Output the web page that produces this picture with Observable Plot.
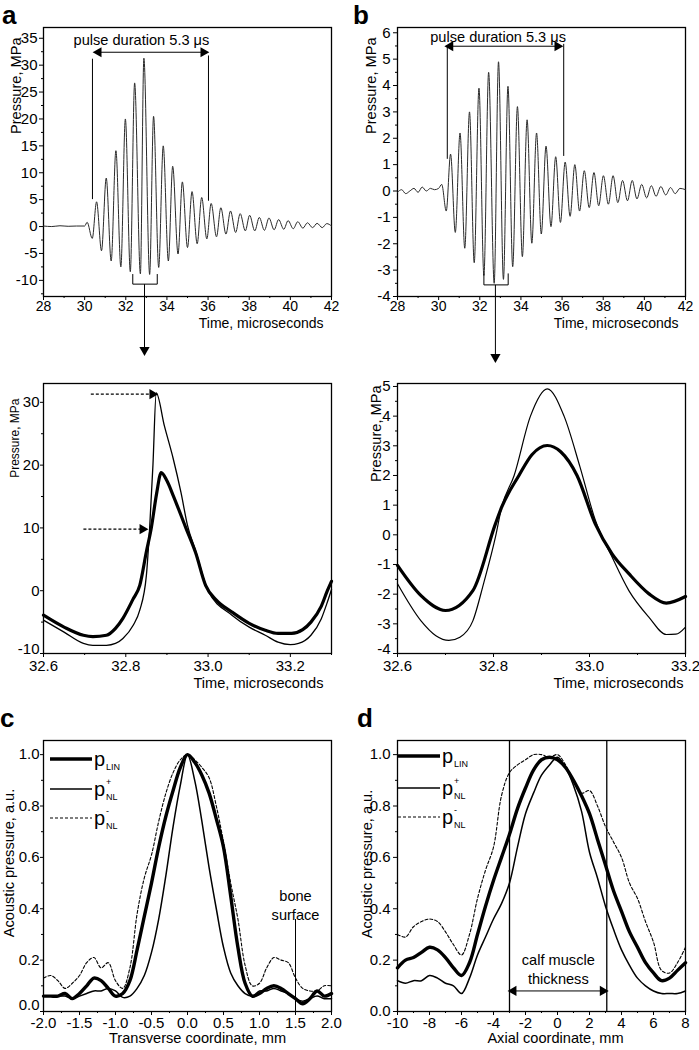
<!DOCTYPE html>
<html><head><meta charset="utf-8">
<script src="https://cdn.jsdelivr.net/npm/d3@7"></script>
<script src="https://cdn.jsdelivr.net/npm/@observablehq/plot@0.6"></script>
<style>
body{margin:0;background:#fff;}
#page{position:relative;width:699px;height:1050px;overflow:hidden;font-family:"Liberation Sans",Arial,sans-serif;background:#fff;}
.panel{position:absolute;}
#overlay{position:absolute;left:0;top:0;pointer-events:none;}
</style></head><body><div id="page"></div>
<script>
const FONT = '"Liberation Sans", Arial, sans-serif';

// ---------- Panel a (full pulse, nonlinear) ----------
const aLeadTime = [28.0, 28.4, 28.8, 29.2, 29.6, 30.0, 30.12];
const aLeadP = [0.1, 0.0, 0.15, 0.05, 0.1, 0.1, 0.8];
const aPeakTime = [30.58, 31.05, 31.52, 31.98, 32.43, 32.88, 33.35, 33.82, 34.28, 34.75, 35.22, 35.69, 36.15, 36.62, 37.09, 37.56, 38.02, 38.49, 38.96, 39.43, 39.89, 40.36, 40.83, 41.30, 41.77];
const aPeakP = [4.6, 9.0, 14.1, 20.0, 26.7, 31.3, 20.5, 15.0, 11.2, 8.3, 6.5, 5.4, 4.3, 3.5, 2.9, 2.4, 2.1, 1.7, 1.6, 1.3, 1.1, 0.9, 0.7, 0.6, 0.55];
const aTroughTime = [30.37, 30.82, 31.29, 31.76, 32.22, 32.71, 33.16, 33.6, 34.07, 34.54, 35.0, 35.47, 35.94, 36.41, 36.87, 37.34, 37.81, 38.27, 38.74, 39.21, 39.68, 40.14, 40.61, 41.08, 41.55, 42.0];
const aTroughP = [-2.2, -4.5, -6.4, -7.5, -8.4, -8.8, -8.9, -7.6, -6.4, -5.1, -3.9, -3.2, -2.3, -1.9, -1.4, -1.1, -0.8, -0.8, -0.7, -0.6, -0.5, -0.4, -0.3, -0.2, -0.2, 0.1];
const aXTicks = [28, 30, 32, 34, 36, 38, 40, 42];
const aXMinor = [29, 31, 33, 35, 37, 39, 41];
const aYTicks = [-10, -5, 0, 5, 10, 15, 20, 25, 30, 35];
const aYMinor = [-12.5, -7.5, -2.5, 2.5, 7.5, 12.5, 17.5, 22.5, 27.5, 32.5];

// ---------- Panel b (full pulse, linear) ----------
const bLeadTime = [28.0, 28.2, 28.4, 28.6, 28.8, 29.0, 29.2, 29.4, 29.6, 29.8, 30.0, 30.15];
const bLeadP = [-0.05, 0.05, -0.1, 0.0, 0.1, -0.05, 0.15, 0.0, 0.1, 0.05, 0.1, 0.25];
const bPeakTime = [30.58, 31.04, 31.5, 31.96, 32.43, 32.91, 33.37, 33.83, 34.3, 34.76, 35.22, 35.69, 36.15, 36.62, 37.08, 37.55, 38.01, 38.48, 38.94, 39.41, 39.87, 40.34, 40.8, 41.27, 41.73];
const bPeakP = [1.4, 2.2, 3.0, 3.9, 4.5, 4.9, 3.97, 3.2, 2.7, 2.2, 1.7, 1.3, 1.1, 1.0, 0.77, 0.7, 0.58, 0.58, 0.4, 0.4, 0.25, 0.2, 0.17, 0.13, 0.1];
const bTroughTime = [30.37, 30.81, 31.27, 31.73, 32.2, 32.7, 33.15, 33.6, 34.07, 34.53, 34.99, 35.46, 35.92, 36.39, 36.85, 37.32, 37.78, 38.25, 38.71, 39.18, 39.64, 40.11, 40.57, 41.04, 41.5, 42.0];
const bTroughP = [-0.76, -1.57, -2.17, -2.72, -3.2, -3.5, -3.35, -2.87, -2.49, -1.98, -1.63, -1.35, -1.19, -0.96, -0.76, -0.63, -0.56, -0.5, -0.44, -0.37, -0.3, -0.26, -0.2, -0.15, -0.1, 0.05];
const bYTicks = [-4, -3, -2, -1, 0, 1, 2, 3, 4, 5, 6];
const bYMinor = [-3.5, -2.5, -1.5, -0.5, 0.5, 1.5, 2.5, 3.5, 4.5, 5.5];

// ---------- Zoomed single period, nonlinear ----------
const a2ThinTime = [32.6, 32.65, 32.697, 32.72, 32.753, 32.775, 32.793, 32.818, 32.834, 32.85, 32.858, 32.866, 32.874, 32.894, 32.915, 32.934, 32.95, 32.97, 33.0, 33.058, 33.1, 33.139, 33.17, 33.2, 33.22, 33.25, 33.275, 33.29, 33.3];
const a2ThinP = [-4.7, -6.6, -8.4, -8.7, -8.7, -8.4, -7.6, -5.5, -3.1, 2.4, 10.0, 20.0, 31.5, 26.2, 21.1, 15.7, 10.4, 6.3, 0.0, -3.9, -5.8, -7.1, -8.2, -8.6, -8.4, -7.1, -4.5, -1.8, 0.2];
const a2BoldTime = [32.6, 32.65, 32.697, 32.72, 32.753, 32.775, 32.793, 32.818, 32.834, 32.85, 32.862, 32.875, 32.886, 32.9, 32.915, 32.946, 32.97, 32.994, 33.02, 33.058, 33.1, 33.139, 33.17, 33.203, 33.23, 33.25, 33.275, 33.29, 33.3];
const a2BoldP = [-3.9, -5.8, -7.1, -7.3, -7.1, -6.0, -4.4, -1.3, 0.85, 6.2, 10.0, 15.5, 18.8, 17.5, 15.2, 10.0, 6.0, 0.85, -1.5, -3.4, -5.2, -6.3, -6.8, -6.8, -6.2, -5.0, -2.5, 0.0, 1.5];
const a2XTicks = [32.6, 32.8, 33.0, 33.2];
const a2XMinor = [32.7, 32.9, 33.1, 33.3];
const a2YTicks = [-10, 0, 10, 20, 30];
const a2YMinor = [-5, 5, 15, 25];

// ---------- Zoomed single period, linear ----------
const b2ThinTime = [32.6, 32.649, 32.68, 32.707, 32.73, 32.757, 32.78, 32.804, 32.817, 32.843, 32.877, 32.912, 32.947, 32.98, 33.012, 33.047, 33.082, 33.124, 33.16, 33.18, 33.2];
const b2ThinP = [-1.65, -2.9, -3.4, -3.56, -3.45, -2.9, -1.6, -0.08, 0.93, 2.0, 4.0, 4.92, 4.0, 2.3, 0.5, -0.75, -1.88, -2.78, -3.36, -3.35, -3.11];
const b2BoldTime = [32.6, 32.649, 32.7, 32.757, 32.804, 32.817, 32.853, 32.88, 32.912, 32.94, 32.974, 33.012, 33.047, 33.082, 33.124, 33.16, 33.2];
const b2BoldP = [-1.03, -2.05, -2.55, -1.88, 0.37, 0.93, 2.0, 2.7, 3.01, 2.8, 2.0, 0.37, -0.64, -1.31, -1.99, -2.3, -2.08];
const b2XTicks = [32.6, 32.8, 33.0, 33.2];
const b2XMinor = [32.7, 32.9, 33.1];
const b2YTicks = [-4, -3, -2, -1, 0, 1, 2, 3, 4, 5];
const b2YMinor = [-3.5, -2.5, -1.5, -0.5, 0.5, 1.5, 2.5, 3.5, 4.5];

// ---------- Panel c (transverse profiles) ----------
const cX = [-2.0, -1.9, -1.8, -1.7, -1.6, -1.5, -1.4, -1.3, -1.2, -1.1, -1.0, -0.9, -0.8, -0.7, -0.6, -0.5, -0.4, -0.3, -0.2, -0.1, 0, 0.1, 0.2, 0.3, 0.4, 0.5, 0.6, 0.7, 0.8, 0.9, 1.0, 1.1, 1.2, 1.3, 1.4, 1.5, 1.6, 1.7, 1.8, 1.9, 2.0];
const cLin = [0.06, 0.06, 0.06, 0.07, 0.05, 0.07, 0.10, 0.13, 0.12, 0.09, 0.06, 0.07, 0.12, 0.24, 0.37, 0.50, 0.64, 0.76, 0.86, 0.95, 1.0, 0.97, 0.92, 0.85, 0.75, 0.64, 0.45, 0.25, 0.11, 0.06, 0.07, 0.09, 0.10, 0.09, 0.07, 0.05, 0.03, 0.05, 0.08, 0.06, 0.07];
const cPlus = [0.06, 0.06, 0.06, 0.06, 0.05, 0.06, 0.07, 0.08, 0.08, 0.09, 0.08, 0.055, 0.06, 0.09, 0.14, 0.23, 0.36, 0.53, 0.72, 0.88, 1.0, 0.9, 0.74, 0.56, 0.40, 0.25, 0.15, 0.10, 0.07, 0.06, 0.08, 0.08, 0.09, 0.08, 0.07, 0.05, 0.04, 0.05, 0.06, 0.05, 0.05];
const cMinus = [0.13, 0.14, 0.12, 0.09, 0.11, 0.14, 0.19, 0.21, 0.17, 0.19, 0.12, 0.09, 0.17, 0.38, 0.52, 0.61, 0.74, 0.85, 0.93, 0.98, 1.0, 0.98, 0.95, 0.91, 0.80, 0.66, 0.50, 0.36, 0.18, 0.10, 0.11, 0.17, 0.21, 0.20, 0.19, 0.13, 0.09, 0.08, 0.08, 0.10, 0.10];
const cXTicks = [-2, -1.5, -1, -0.5, 0, 0.5, 1, 1.5, 2];
const cXMinor = [-1.75, -1.25, -0.75, -0.25, 0.25, 0.75, 1.25, 1.75];
const pYTicks = [0, 0.2, 0.4, 0.6, 0.8, 1.0];
const pYMinor = [0.1, 0.3, 0.5, 0.7, 0.9];

// ---------- Panel d (axial profiles) ----------
const dX = [-10, -9.5, -9, -8.5, -8, -7.5, -7, -6.5, -6, -5.5, -5, -4.5, -4, -3.5, -3, -2.5, -2, -1.5, -1, -0.5, 0, 0.5, 1, 1.5, 2, 2.5, 3, 3.5, 4, 4.5, 5, 5.5, 6, 6.5, 7, 7.5, 8];
const dLin = [0.17, 0.20, 0.21, 0.23, 0.25, 0.24, 0.21, 0.17, 0.14, 0.19, 0.30, 0.41, 0.51, 0.60, 0.69, 0.79, 0.87, 0.94, 0.98, 0.99, 0.98, 0.95, 0.90, 0.84, 0.77, 0.67, 0.57, 0.47, 0.39, 0.31, 0.25, 0.19, 0.15, 0.12, 0.13, 0.16, 0.19];
const dPlus = [0.12, 0.11, 0.12, 0.12, 0.14, 0.13, 0.11, 0.10, 0.07, 0.13, 0.22, 0.29, 0.36, 0.42, 0.50, 0.64, 0.77, 0.85, 0.92, 0.96, 0.99, 0.95, 0.88, 0.78, 0.62, 0.52, 0.41, 0.32, 0.24, 0.18, 0.13, 0.10, 0.08, 0.07, 0.07, 0.07, 0.08];
const dMinus = [0.30, 0.29, 0.33, 0.35, 0.36, 0.35, 0.31, 0.26, 0.22, 0.30, 0.44, 0.55, 0.64, 0.84, 0.93, 0.96, 0.98, 1.0, 1.0, 0.99, 1.0, 0.96, 0.90, 0.85, 0.86, 0.80, 0.72, 0.66, 0.60, 0.50, 0.44, 0.35, 0.27, 0.16, 0.15, 0.19, 0.25];
const dXTicks = [-10, -8, -6, -4, -2, 0, 2, 4, 6, 8];
const dXMinor = [-9, -7, -5, -3, -1, 1, 3, 5, 7];

// ---------- Annotation anchors (data units) ----------
const aPulse = {label: "pulse duration 5.3 μs", tx: 32.76, ty: 34.6, x1: 30.53, x2: 35.92, y: 32.4, lx: 30.38, ly1: 5.1, ly2: 31.2, rx: 36.02, ry1: 4.8, ry2: 31.8};
const aBracket = {x1: 32.34, x2: 33.53, y: -10.7, top: -8.9, stem: 32.91, tip: -23.5};
const bPulse = {label: "pulse duration 5.3 μs", tx: 32.89, ty: 5.83, x1: 30.42, x2: 35.92, y: 5.49, lx: 30.42, ly1: 1.22, ly2: 5.49, rx: 36.08, ry1: 1.33, ry2: 5.58};
const bBracket = {x1: 32.2, x2: 33.38, y: -3.56, top: -3.14, stem: 32.76, tip: -6.41};
const a2Arrows = [{x1: 32.715, x2: 32.872, y: 31.3}, {x1: 32.697, x2: 32.848, y: 9.8}];
const cBone = {label: "bone\nsurface", x: 1.5, y: 0.0, top: 0.36, ty: 0.416};
const dCalf = {label: "calf muscle\nthickness", x1: -3.0, x2: 3.08, y: 0.08, ty: 0.167, tx: 0.05};

const page = document.getElementById("page");
const fmt = n => d => d.toFixed(n);
const merge = (...pairs) => {
  const rows = [];
  for (const [t, v] of pairs) t.forEach((d, i) => rows.push({t: d, p: v[i]}));
  return rows.sort((a, b) => a.t - b.t);
};
const rows = (xs, ys) => xs.map((x, i) => ({x, y: ys[i]}));
const TICK = 15, LAB = 14.6;

function axes(o) {
  const yT = o.yTick ?? 4, yP = o.yPad ?? 2, low = o.lowShift ?? 0;
  const yText = (ticks, dy) => Plot.text(ticks, {y: d => d, text: o.yFmt, frameAnchor: "left", textAnchor: "end", dx: -(yT + yP), dy, fontSize: TICK});
  return [
    Plot.axisX({ticks: o.xTicks, tickSize: o.xTick ?? 4, tickPadding: o.xPad ?? 3, tickFormat: o.xFmt, label: null, fontSize: o.xFont ?? TICK}),
    Plot.axisX({ticks: o.xMinor, tickSize: 2, tickFormat: () => "", label: null}),
    Plot.axisY({ticks: o.yTicks, tickSize: yT, tickFormat: () => "", label: null}),
    Plot.axisY({ticks: o.yMinor, tickSize: 2, tickFormat: () => "", label: null}),
    yText(o.yTicks.slice(0, 1), -low),
    yText(o.yTicks.slice(1), 0),
    Plot.frame({stroke: "#000", strokeWidth: 1.3})
  ];
}
function ylab(text, anchor, dx, dy, size = LAB, textAnchor = "end") {
  return Plot.text([text], {text: d => d, frameAnchor: anchor, rotate: -90, textAnchor, dx, dy, fontSize: size});
}
function xlab(text, anchor, dx, dy, textAnchor = "end", size = LAB) {
  return Plot.text([text], {text: d => d, frameAnchor: anchor, textAnchor, dx, dy, fontSize: size});
}
function seg(list, opts = {}) {
  return Plot.link(list, {x1: "x1", y1: "y1", x2: "x2", y2: "y2", stroke: "#000", strokeWidth: 1, ...opts});
}
function head(list, rotate, opts = {}) {
  return Plot.dot(list, {x: "x", y: "y", symbol: "triangle", r: 3.8, fill: "#000", stroke: "none", rotate, ...opts});
}
function pulseMarks(P, B) {
  return [
    Plot.text([P.label], {text: d => d, x: P.tx, y: P.ty, fontSize: LAB}),
    seg([{x1: P.x1, y1: P.y, x2: P.x2, y2: P.y}]),
    head([{x: P.x1, y: P.y}], -90, {dx: 3}),
    head([{x: P.x2, y: P.y}], 90, {dx: -3}),
    seg([{x1: P.lx, y1: P.ly1, x2: P.lx, y2: P.ly2}, {x1: P.rx, y1: P.ry1, x2: P.rx, y2: P.ry2}]),
    Plot.line([{x: B.x1, y: B.top}, {x: B.x1, y: B.y}, {x: B.x2, y: B.y}, {x: B.x2, y: B.top}], {x: "x", y: "y", stroke: "#000", strokeWidth: 1}),
    seg([{x1: B.stem, y1: B.y, x2: B.stem, y2: B.tip}]),
    head([{x: B.stem, y: B.tip}], 180, {dy: -3})
  ];
}
function place(svg, left, top) {
  const d = document.createElement("div");
  d.className = "panel"; d.style.left = left + "px"; d.style.top = top + "px";
  d.append(svg); page.append(d);
}
const style = {fontFamily: FONT, fontSize: "15px", overflow: "visible", background: "transparent", color: "#000"};

// Panel a
place(Plot.plot({
  width: 350, height: 360, marginLeft: 43, marginRight: 19, marginTop: 27, marginBottom: 64, style,
  x: {domain: [28, 42]}, y: {domain: [-13, 37]},
  marks: [
    ...axes({xTicks: aXTicks, xMinor: aXMinor, yTicks: aYTicks, yMinor: aYMinor, xFmt: fmt(0), yFmt: fmt(0), xPad: 1, xFont: 14}),
    Plot.line(merge([aLeadTime, aLeadP], [aPeakTime, aPeakP], [aTroughTime, aTroughP]), {x: "t", y: "p", stroke: "#2a2a2a", strokeWidth: 1, curve: "monotone-x"}),
    ...pulseMarks(aPulse, aBracket),
    ylab("Pressure, MPa", "top-left", -33, 10),
    xlab("Time, microseconds", "bottom-right", -8, 31, "end", 14)
  ]
}), 0, 0);

// Panel b
place(Plot.plot({
  width: 349, height: 360, marginLeft: 47, marginRight: 14, marginTop: 27, marginBottom: 64, style,
  x: {domain: [28, 42]}, y: {domain: [-4, 6.2]},
  marks: [
    ...axes({xTicks: aXTicks, xMinor: aXMinor, yTicks: bYTicks, yMinor: bYMinor, xFmt: fmt(0), yFmt: fmt(0), yPad: 3, xPad: 1, xFont: 14}),
    Plot.line(merge([bLeadTime, bLeadP], [bPeakTime, bPeakP], [bTroughTime, bTroughP]), {x: "t", y: "p", stroke: "#2a2a2a", strokeWidth: 1, curve: "monotone-x"}),
    ...pulseMarks(bPulse, bBracket),
    ylab("Pressure, MPa", "top-left", -32, 10),
    xlab("Time, microseconds", "bottom-right", -7, 31, "end", 14)
  ]
}), 350, 0);

// Zoomed a
place(Plot.plot({
  width: 350, height: 370, marginLeft: 43, marginRight: 19, marginTop: 53, marginBottom: 47, style,
  x: {domain: [32.6, 33.3]}, y: {domain: [-10, 33]},
  marks: [
    ...axes({xTicks: a2XTicks, xMinor: a2XMinor, yTicks: a2YTicks, yMinor: a2YMinor, xFmt: fmt(1), yFmt: fmt(0), yTick: 3, yPad: 1, xPad: 3, lowShift: 4}),
    Plot.line(rows(a2ThinTime, a2ThinP), {x: "x", y: "y", stroke: "#000", strokeWidth: 1.3, curve: "monotone-x"}),
    Plot.line(rows(a2BoldTime, a2BoldP), {x: "x", y: "y", stroke: "#000", strokeWidth: 3.2, curve: "monotone-x"}),
    seg(a2Arrows.map(d => ({x1: d.x1, y1: d.y, x2: d.x2, y2: d.y})), {strokeDasharray: "3,2", strokeWidth: 1.3}),
    head(a2Arrows.map(d => ({x: d.x2, y: d.y})), 90, {dx: -3}),
    ylab("Pressure, MPa", "top-left", -33, 15, 12),
    xlab("Time, microseconds", "bottom-right", -8, 34)
  ]
}), 0, 330);

// Zoomed b
place(Plot.plot({
  width: 349, height: 370, marginLeft: 47, marginRight: 14, marginTop: 53, marginBottom: 47, style,
  x: {domain: [32.6, 33.2]}, y: {domain: [-4, 5.1]},
  marks: [
    ...axes({xTicks: b2XTicks, xMinor: b2XMinor, yTicks: b2YTicks, yMinor: b2YMinor, xFmt: fmt(1), yFmt: fmt(0), yPad: 3, xPad: 3, lowShift: 4}),
    Plot.line(rows(b2ThinTime, b2ThinP), {x: "x", y: "y", stroke: "#000", strokeWidth: 1.2, curve: "monotone-x"}),
    Plot.line(rows(b2BoldTime, b2BoldP), {x: "x", y: "y", stroke: "#000", strokeWidth: 3.2, curve: "monotone-x"}),
    ylab("Pressure, MPa", "top-left", -27, 2),
    xlab("Time, microseconds", "bottom-right", -2, 34)
  ]
}), 350, 330);

// Panel c
place(Plot.plot({
  width: 350, height: 350, marginLeft: 43, marginRight: 19, marginTop: 40, marginBottom: 39, style,
  x: {domain: [-2, 2]}, y: {domain: [0, 1.055]},
  marks: [
    ...axes({xTicks: cXTicks, xMinor: cXMinor, yTicks: pYTicks, yMinor: pYMinor, xFmt: fmt(1), yFmt: fmt(1), xPad: 2, yTick: 3, yPad: 1, lowShift: 6}),
    Plot.line(rows(cX, cMinus), {x: "x", y: "y", stroke: "#000", strokeWidth: 1.1, strokeDasharray: "3,2", curve: "catmull-rom"}),
    Plot.line(rows(cX, cPlus), {x: "x", y: "y", stroke: "#000", strokeWidth: 1.5, curve: "catmull-rom"}),
    Plot.line(rows(cX, cLin), {x: "x", y: "y", stroke: "#000", strokeWidth: 3.4, curve: "catmull-rom"}),
    seg([{x1: cBone.x, y1: cBone.y, x2: cBone.x, y2: cBone.top}]),
    Plot.text([cBone.label], {text: d => d, x: cBone.x, y: cBone.ty, fontSize: LAB, lineHeight: 1.3}),
    ylab("Acoustic pressure, a.u.", "left", -34, -13, LAB, "middle"),
    xlab("Transverse coordinate, mm", "bottom", 10, 31, "middle")
  ]
}), 0, 700);

// Panel d
place(Plot.plot({
  width: 349, height: 350, marginLeft: 47, marginRight: 14, marginTop: 40, marginBottom: 39, style,
  x: {domain: [-10, 8]}, y: {domain: [0, 1.055]},
  marks: [
    ...axes({xTicks: dXTicks, xMinor: dXMinor, yTicks: pYTicks, yMinor: pYMinor, xFmt: fmt(0), yFmt: fmt(1), xPad: 2, yPad: 3}),
    Plot.line(rows(dX, dMinus), {x: "x", y: "y", stroke: "#000", strokeWidth: 1.1, strokeDasharray: "3,2", curve: "catmull-rom"}),
    Plot.line(rows(dX, dPlus), {x: "x", y: "y", stroke: "#000", strokeWidth: 1.5, curve: "catmull-rom"}),
    Plot.line(rows(dX, dLin), {x: "x", y: "y", stroke: "#000", strokeWidth: 3.4, curve: "catmull-rom"}),
    seg([{x1: dCalf.x1, y1: 0, x2: dCalf.x1, y2: 1.055}, {x1: dCalf.x2, y1: 0, x2: dCalf.x2, y2: 1.055}], {strokeWidth: 1.3}),
    seg([{x1: dCalf.x1, y1: dCalf.y, x2: dCalf.x2, y2: dCalf.y}]),
    head([{x: dCalf.x1, y: dCalf.y}], -90, {dx: 4}),
    head([{x: dCalf.x2, y: dCalf.y}], 90, {dx: -4}),
    Plot.text([dCalf.label], {text: d => d, x: dCalf.tx, y: dCalf.ty, fontSize: LAB, lineHeight: 1.3}),
    ylab("Acoustic pressure, a.u.", "left", -30, -12, LAB, "middle"),
    xlab("Axial coordinate, mm", "bottom", 14, 31, "middle")
  ]
}), 350, 700);

// Overlay: panel letters and legends
const legendItems = [
  {w: 3.4, dash: null, sup: "", sub: "LIN"},
  {w: 1.5, dash: null, sup: "+", sub: "NL"},
  {w: 1.1, dash: "3,2", sup: "-", sub: "NL"}
];
const NS = "http://www.w3.org/2000/svg";
const ov = document.createElementNS(NS, "svg");
ov.setAttribute("id", "overlay"); ov.setAttribute("width", 699); ov.setAttribute("height", 1050);
let html = "";
[["a", 2, 24], ["b", 353, 24], ["c", 0, 727], ["d", 357, 727]].forEach(([t, x, y]) => {
  html += `<text x="${x}" y="${y}" font-family='${FONT}' font-weight="bold" font-size="26">${t}</text>`;
});
[{x0: 50, x1: 92, ys: [759, 789, 818]}, {x0: 398, x1: 440, ys: [756, 788, 817]}].forEach(L => {
  legendItems.forEach((it, i) => {
    const y = L.ys[i];
    html += `<line x1="${L.x0}" x2="${L.x1}" y1="${y}" y2="${y}" stroke="#000" stroke-width="${it.w}"${it.dash ? ` stroke-dasharray="${it.dash}"` : ""}/>`;
    const px = L.x1 + 2, base = y + 7;
    html += `<text x="${px}" y="${base}" font-family='${FONT}' font-size="20">p</text>`;
    if (it.sup) html += `<text x="${px + 12}" y="${base - 11}" font-family='${FONT}' font-size="9">${it.sup}</text>`;
    html += `<text x="${px + 12}" y="${base + 4}" font-family='${FONT}' font-size="9">${it.sub}</text>`;
  });
});
ov.innerHTML = html;
page.append(ov);
</script></body></html>
